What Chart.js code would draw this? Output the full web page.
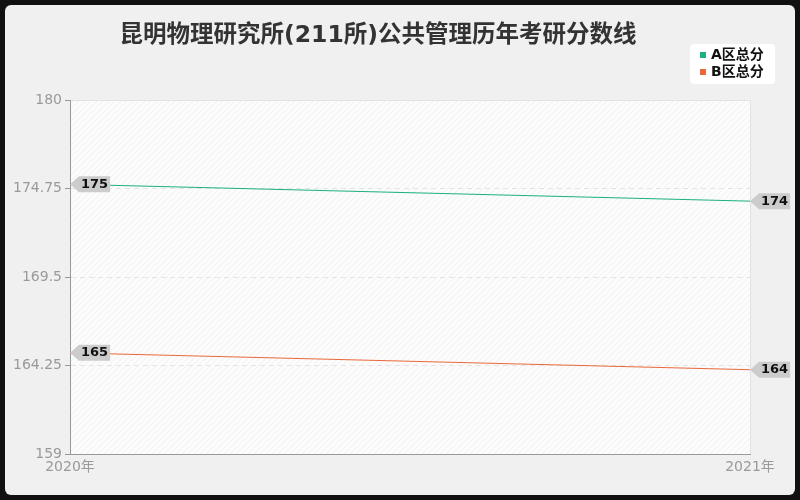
<!DOCTYPE html>
<html>
<head>
<meta charset="utf-8">
<script src="https://cdn.jsdelivr.net/npm/chart.js@4"></script>
<style>
  html, body { margin: 0; padding: 0; background: #111; }
  #wrap { width: 800px; height: 500px; position: relative; }
</style>
</head>
<body>
<div id="wrap"><canvas id="chart" width="800" height="500"></canvas></div>
<script>
// data
const years = ["2020年", "2021年"];
const scoreA = [175, 174];
const scoreB = [165, 164];
const yTicks = [159, 164.25, 169.5, 174.75, 180];
const seriesNames = ["A区总分", "B区总分"];
const seriesColors = ["#1bb07f", "#e8693a"];
const titleText = "昆明物理研究所(211所)公共管理历年考研分数线";

const FONT = "'DejaVu Sans', 'Noto Sans CJK SC', sans-serif";

// panel background, hatched plot area and its border
const backdrop = {
  id: "backdrop",
  beforeDraw(chart) {
    const ctx = chart.ctx;
    const a = chart.chartArea;
    ctx.save();
    ctx.fillStyle = "#111";
    ctx.fillRect(0, 0, chart.width, chart.height);
    ctx.fillStyle = "#f0f0f0";
    ctx.beginPath();
    ctx.roundRect(5, 5, chart.width - 10, chart.height - 10, 6);
    ctx.fill();

    // hatch pattern
    const p = document.createElement("canvas");
    p.width = 6; p.height = 6;
    const pc = p.getContext("2d");
    pc.fillStyle = "#fcfcfc";
    pc.fillRect(0, 0, 6, 6);
    pc.strokeStyle = "#f1f1f1";
    pc.lineWidth = 1;
    pc.beginPath();
    pc.moveTo(0, 6); pc.lineTo(6, 0);
    pc.moveTo(-1, 1); pc.lineTo(1, -1);
    pc.moveTo(5, 7); pc.lineTo(7, 5);
    pc.stroke();
    ctx.fillStyle = ctx.createPattern(p, "repeat");
    ctx.fillRect(a.left, a.top, a.right - a.left, a.bottom - a.top);
    ctx.strokeStyle = "#e2e2e2";
    ctx.lineWidth = 1;
    ctx.strokeRect(a.left + 0.5, a.top + 0.5, a.right - a.left, a.bottom - a.top);
    ctx.restore();
  }
};

// title and legend box
const header = {
  id: "header",
  afterDraw(chart) {
    const ctx = chart.ctx;
    ctx.save();
    ctx.fillStyle = "#333";
    ctx.font = "bold 23.5px " + FONT;
    ctx.textAlign = "center";
    ctx.textBaseline = "middle";
    ctx.fillText(titleText, 378, 36);

    ctx.fillStyle = "#fff";
    ctx.beginPath();
    ctx.roundRect(690, 44, 85, 40, 4);
    ctx.fill();
    ctx.font = "bold 14px " + FONT;
    ctx.textAlign = "left";
    seriesNames.forEach((name, i) => {
      const y = 55 + i * 17;
      ctx.fillStyle = seriesColors[i];
      ctx.fillRect(700, y - 3, 6, 6);
      ctx.fillStyle = "#111";
      ctx.fillText(name, 711, y);
    });
    ctx.restore();
  }
};

// grey arrow tags with the value at every point
const tags = {
  id: "tags",
  afterDraw(chart) {
    const ctx = chart.ctx;
    ctx.save();
    ctx.font = "bold 13px " + FONT;
    ctx.textBaseline = "middle";
    chart.data.datasets.forEach((ds, di) => {
      chart.getDatasetMeta(di).data.forEach((pt, i) => {
        const x = pt.x, y = pt.y;
        const txt = String(ds.data[i]);
        const w = ctx.measureText(txt).width + 4;
        const h = 16;
        ctx.fillStyle = "#cccccc";
        ctx.beginPath();
        ctx.moveTo(x, y);
        ctx.lineTo(x + 9, y - h / 2);
        ctx.lineTo(x + 9 + w, y - h / 2);
        ctx.lineTo(x + 9 + w, y + h / 2);
        ctx.lineTo(x + 9, y + h / 2);
        ctx.closePath();
        ctx.fill();
        ctx.fillStyle = "#111";
        ctx.textAlign = "left";
        ctx.fillText(txt, x + 11, y);
      });
    });
    ctx.restore();
  }
};

new Chart(document.getElementById("chart"), {
  type: "line",
  data: {
    labels: years,
    datasets: [
      {
        label: seriesNames[0],
        data: scoreA,
        borderColor: seriesColors[0],
        backgroundColor: seriesColors[0],
        borderWidth: 1,
        pointRadius: 0,
        tension: 0,
      },
      {
        label: seriesNames[1],
        data: scoreB,
        borderColor: seriesColors[1],
        backgroundColor: seriesColors[1],
        borderWidth: 1,
        pointRadius: 0,
        tension: 0,
      },
    ],
  },
  options: {
    responsive: false,
    animation: false,
    devicePixelRatio: 1,
    layout: { padding: { left: 0, right: 50, top: 100, bottom: 0 } },
    plugins: {
      legend: { display: false },
      title: { display: false },
      tooltip: { enabled: false },
    },
    scales: {
      x: {
        offset: false,
        grid: { display: false, drawTicks: true, tickLength: 5 },
        border: { color: "#999", width: 1 },
        ticks: {
          color: "#999",
          font: { size: 14, family: FONT },
          maxRotation: 0,
          padding: 0,
        },
        afterFit(s) { s.height = 46; },
      },
      y: {
        min: 159,
        max: 180,
        afterBuildTicks(s) { s.ticks = yTicks.map((v) => ({ value: v })); },
        grid: {
          color: "#e4e4e4",
          tickColor: "#999",
          tickLength: 5,
          drawOnChartArea: true,
        },
        border: { color: "#999", width: 1, dash: [5, 4] },
        ticks: {
          color: "#999",
          font: { size: 14, family: FONT },
          padding: 3,
          callback: (v) => String(v),
        },
        afterFit(s) { s.width = 70; },
      },
    },
  },
  plugins: [backdrop, header, tags],
});
</script>
</body>
</html>
